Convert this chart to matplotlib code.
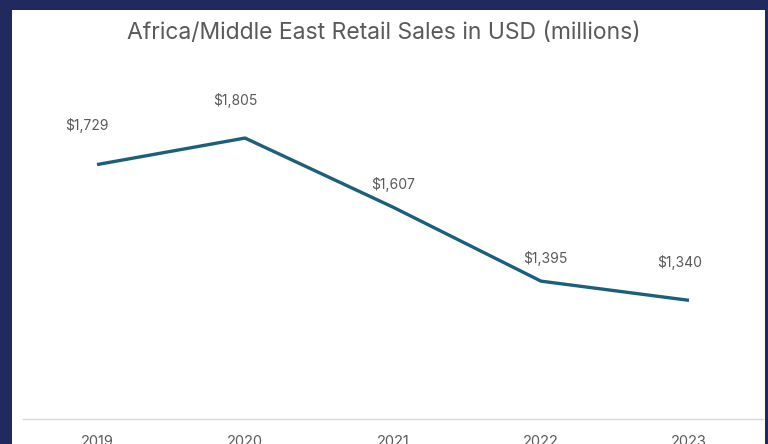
import matplotlib.pyplot as plt
from matplotlib.patches import Rectangle

years = ['2019', '2020', '2021', '2022', '2023']
sales = [1729, 1805, 1607, 1395, 1340]
labels = ['$1,729', '$1,805', '$1,607', '$1,395', '$1,340']

navy = '#212a5e'
line_col = '#1c5f7b'
text_col = '#595959'
font = 'Inter'

fig = plt.figure(figsize=(7.68, 4.44), dpi=100)
fig.patch.set_facecolor(navy)

# white card behind the chart
card = Rectangle((12 / 768, 0), (765 - 12) / 768, 1 - 10 / 444,
                 transform=fig.transFigure, facecolor='white',
                 edgecolor='none', zorder=-10)
fig.patches.append(card)

ax = fig.add_axes([23 / 768, 1 - 419 / 444, (763 - 23) / 768, (419 - 70) / 444])
ax.set_facecolor('none')
ax.set_zorder(5)

x = list(range(len(years)))
ax.plot(x, sales, color=line_col, lw=2.4, solid_capstyle='butt',
        solid_joinstyle='miter', zorder=3)

# data labels sit above each point
offsets = [(-7, 28), (-7, 27), (0, 16), (3, 16), (-7, 27)]
for xi, yi, lab, off in zip(x, sales, labels, offsets):
    ax.annotate(lab, (xi, yi), xytext=off, textcoords='offset points',
                ha='center', va='center', fontsize=10, color=text_col,
                family=font)

ax.set_xlim(-0.5, len(years) - 0.5)
ax.set_ylim(1000, 2000)
ax.set_xticks(x)
ax.set_xticklabels(years, fontsize=10.5, color=text_col, family=font)
ax.tick_params(axis='x', length=0, pad=11.5)
ax.set_yticks([])
for side in ['top', 'right', 'left']:
    ax.spines[side].set_visible(False)
ax.spines['bottom'].set_color('#d9d9d9')
ax.spines['bottom'].set_linewidth(1.0)

fig.text(0.5, 1 - 33 / 444, 'Africa/Middle East Retail Sales in USD (millions)',
         ha='center', va='center', fontsize=16.5, color=text_col,
         family=font)

fig.savefig('out.png', dpi=100, facecolor=fig.get_facecolor())
